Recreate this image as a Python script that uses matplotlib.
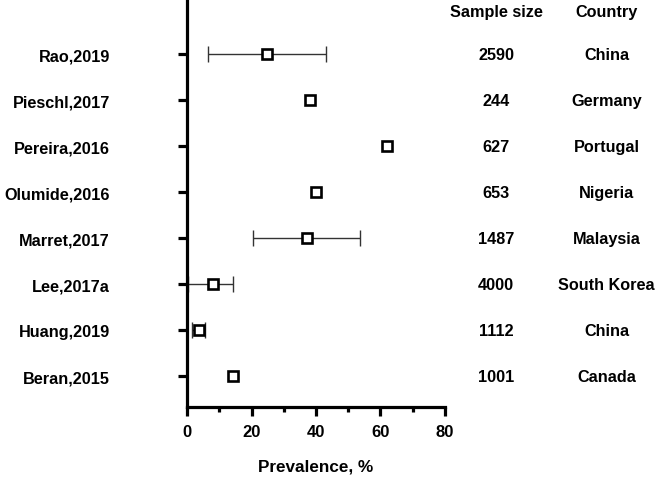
import matplotlib.pyplot as plt

plt.rcParams['font.family'] = ['Liberation Sans', 'DejaVu Sans']

# dados
estudos = ["Rao,2019", "Pieschl,2017", "Pereira,2016", "Olumide,2016",
           "Marret,2017", "Lee,2017a", "Huang,2019", "Beran,2015"]
prevalencia = [24.7, 38.1, 61.9, 39.9, 37.1, 7.9, 3.6, 14.4]
ic_baixo = [6.6, 38.1, 61.9, 39.9, 20.5, 0.3, 1.5, 14.4]
ic_alto = [43.0, 38.1, 61.9, 39.9, 53.7, 14.4, 5.6, 14.4]
amostra = ["2590", "244", "627", "653", "1487", "4000", "1112", "1001"]
paises = ["China", "Germany", "Portugal", "Nigeria", "Malaysia",
          "South Korea", "China", "Canada"]

n = len(estudos)
ypos = [n - 1 - i for i in range(n)]

# so os estudos com intervalo
idx = [i for i in range(n) if ic_alto[i] > ic_baixo[i]]
ex = [prevalencia[i] for i in idx]
ey = [ypos[i] for i in idx]
erro_esq = [prevalencia[i] - ic_baixo[i] for i in idx]
erro_dir = [ic_alto[i] - prevalencia[i] for i in idx]

fig = plt.figure(figsize=(6.61, 4.81), dpi=100)
ax = fig.add_axes([0.283, 0.152, 0.39, 0.848])

ax.errorbar(ex, ey, xerr=[erro_esq, erro_dir], fmt='none',
            ecolor='#333333', elinewidth=1, capsize=5.5, capthick=1)
ax.plot(prevalencia, ypos, 's', ms=6.5, mfc='white', mec='black', mew=1.9, zorder=3)

ax.set_xlim(0, 80)
ax.set_ylim(-0.67, n - 1 + 1.2)
ax.set_xticks([0, 20, 40, 60, 80])
ax.set_xticks([10, 30, 50, 70], minor=True)
ax.set_yticks(ypos)
ax.set_yticklabels(estudos, fontsize=11.7, fontweight='bold')
for lab in ax.get_xticklabels():
    lab.set_fontsize(12)
    lab.set_fontweight('bold')

for s in ['top', 'right']:
    ax.spines[s].set_visible(False)
for s in ['left', 'bottom']:
    ax.spines[s].set_linewidth(2.3)
ax.tick_params(axis='both', which='major', width=2.3, length=6.5)
ax.tick_params(axis='x', which='minor', width=2.3, length=3.5)
ax.tick_params(axis='y', pad=49)
ax.tick_params(axis='x', pad=6)

ax.set_xlabel("Prevalence, %", fontsize=12.3, fontweight='bold', labelpad=14)

# colunas de texto
trans = ax.get_yaxis_transform()
x_amostra = (496.5 - 187) / 258
x_pais = (607 - 187) / 258
for y, a, p in zip(ypos, amostra, paises):
    ax.text(x_amostra, y, a, transform=trans, ha='center', va='center',
            fontsize=11.7, fontweight='bold', clip_on=False)
    ax.text(x_pais, y, p, transform=trans, ha='center', va='center',
            fontsize=11.7, fontweight='bold', clip_on=False)
fig.text(496.5 / 661, 1 - 12 / 481, "Sample size", ha='center', va='center',
         fontsize=11.7, fontweight='bold')
fig.text(607 / 661, 1 - 12 / 481, "Country", ha='center', va='center',
         fontsize=11.7, fontweight='bold')

fig.savefig("out.png", dpi=100)
